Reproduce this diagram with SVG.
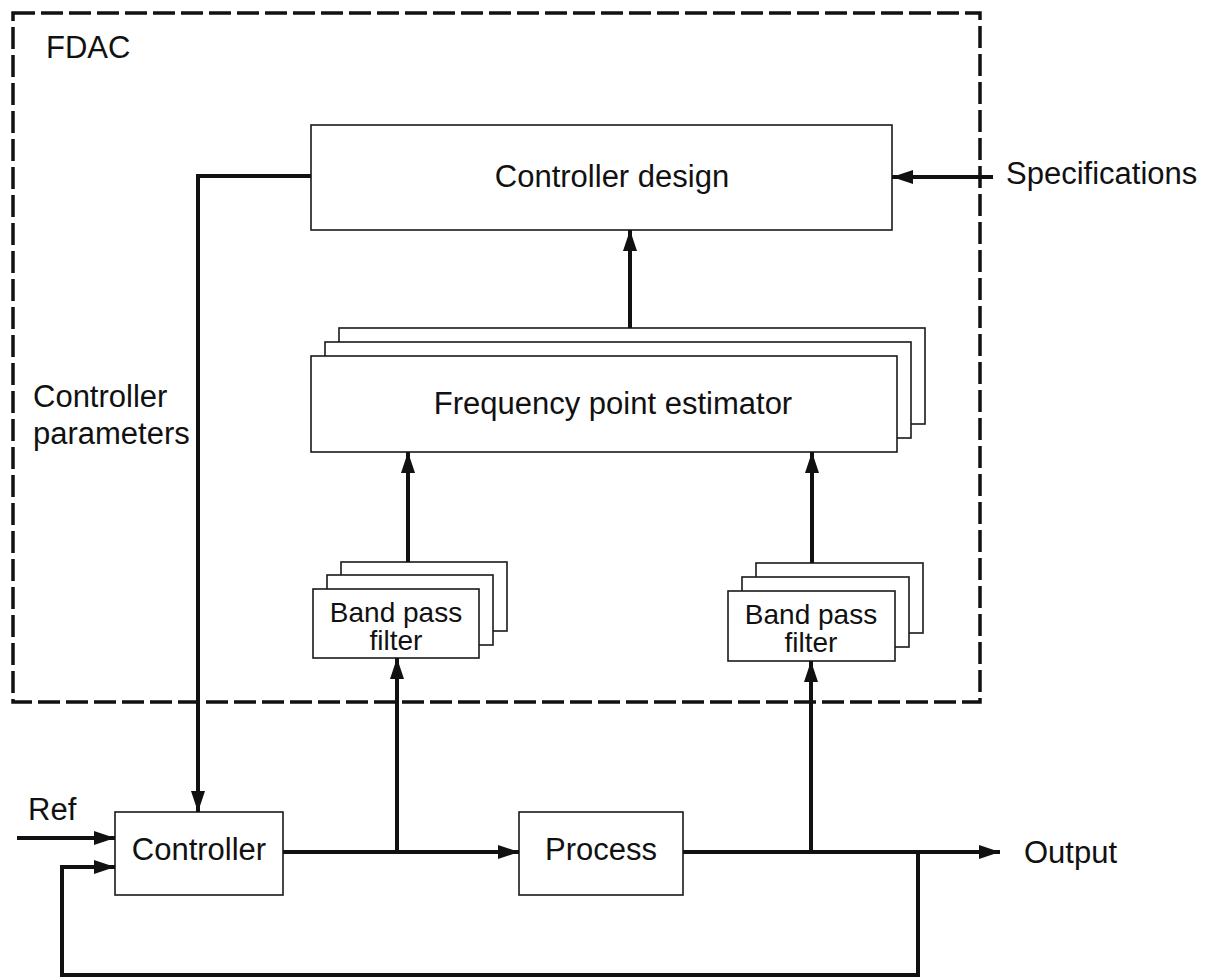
<svg xmlns="http://www.w3.org/2000/svg" width="1209" height="978" viewBox="0 0 1209 978">
  <style>
    .box { fill: #ffffff; stroke: #1a1a1a; stroke-width: 1.6; }
    .wire { fill: none; stroke: #111111; stroke-width: 4; }
    .label { font-family: "Liberation Sans", Arial, sans-serif; font-size: 31px; fill: #111111; }
    .small { font-size: 28px; }
    .mid { text-anchor: middle; }
    .frame { fill: none; stroke: #111111; stroke-width: 3.5; stroke-dasharray: 22 6; }
  </style>
  <defs>
    <marker id="arrow" markerUnits="userSpaceOnUse" markerWidth="22" markerHeight="16" refX="21" refY="7" orient="auto">
      <path d="M0,0 L21,7 L0,14 z" fill="#111111"/>
    </marker>
  </defs>

  <rect width="1209" height="978" fill="#ffffff"/>

  <!-- FDAC boundary -->
  <g id="fdac">
    <rect class="frame" x="13" y="13" width="967" height="689"/>
    <text class="label" x="46" y="58">FDAC</text>
  </g>

  <g id="controller-design">
    <rect class="box" x="311" y="125" width="581" height="105"/>
    <text class="label mid" x="612" y="187">Controller design</text>
  </g>

  <g id="frequency-point-estimator">
    <rect class="box" x="339" y="328" width="586" height="96"/>
    <rect class="box" x="325" y="342" width="586" height="96"/>
    <rect class="box" x="311" y="356" width="586" height="96"/>
    <text class="label mid" x="613" y="414">Frequency point estimator</text>
  </g>

  <g id="bpf-left">
    <rect class="box" x="341" y="562" width="166" height="69"/>
    <rect class="box" x="327" y="575" width="166" height="70"/>
    <rect class="box" x="313" y="589" width="166" height="69"/>
    <text class="label small mid" x="396" y="622">Band pass</text>
    <text class="label small mid" x="396" y="650">filter</text>
  </g>

  <g id="bpf-right">
    <rect class="box" x="756" y="563" width="167" height="70"/>
    <rect class="box" x="742" y="577" width="167" height="70"/>
    <rect class="box" x="728" y="591" width="167" height="70"/>
    <text class="label small mid" x="811" y="624">Band pass</text>
    <text class="label small mid" x="811" y="652">filter</text>
  </g>

  <g id="controller">
    <rect class="box" x="115" y="812" width="168" height="83"/>
    <text class="label mid" x="199" y="860">Controller</text>
  </g>

  <g id="process">
    <rect class="box" x="519" y="812" width="164" height="83"/>
    <text class="label mid" x="601" y="860">Process</text>
  </g>

  <g id="labels">
    <text class="label" x="1006" y="184">Specifications</text>
    <text class="label" x="33" y="407">Controller</text>
    <text class="label" x="33" y="444">parameters</text>
    <text class="label" x="28" y="820">Ref</text>
    <text class="label" x="1024" y="863">Output</text>
  </g>

  <g id="connectors">
    <!-- estimator to design -->
    <line class="wire" x1="630" y1="328" x2="630" y2="230" marker-end="url(#arrow)"/>
    <!-- specifications in -->
    <line class="wire" x1="993" y1="177" x2="892" y2="177" marker-end="url(#arrow)"/>
    <!-- controller parameters -->
    <polyline class="wire" points="311,176 198,176 198,812" marker-end="url(#arrow)"/>
    <!-- filters to estimator -->
    <line class="wire" x1="408" y1="562" x2="408" y2="452" marker-end="url(#arrow)"/>
    <line class="wire" x1="812" y1="563" x2="812" y2="452" marker-end="url(#arrow)"/>
    <!-- signals into filters -->
    <line class="wire" x1="397" y1="852" x2="397" y2="658" marker-end="url(#arrow)"/>
    <line class="wire" x1="811" y1="852" x2="811" y2="661" marker-end="url(#arrow)"/>
    <!-- main loop -->
    <line class="wire" x1="17" y1="838" x2="115" y2="838" marker-end="url(#arrow)"/>
    <line class="wire" x1="283" y1="852" x2="519" y2="852" marker-end="url(#arrow)"/>
    <line class="wire" x1="683" y1="852" x2="1000" y2="852" marker-end="url(#arrow)"/>
    <polyline class="wire" points="918,852 918,975 62,975 62,867 115,867" marker-end="url(#arrow)"/>
  </g>
</svg>
